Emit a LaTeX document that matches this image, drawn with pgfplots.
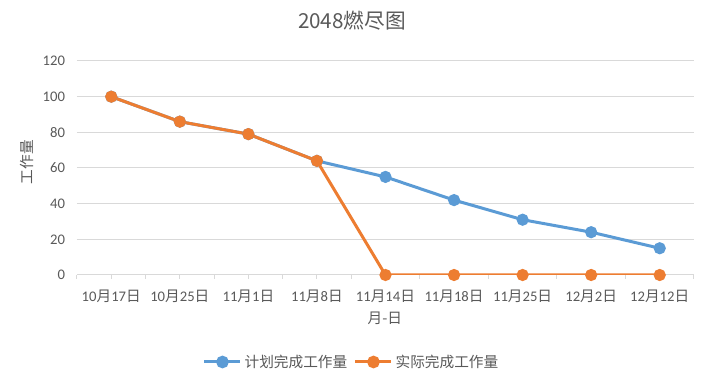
\documentclass[border=0pt]{standalone}
\usepackage{fontspec}
\setmainfont{Carlito}
\newfontfamily\cjk{Noto Sans CJK SC}
\usepackage{pgfplots}
\pgfplotsset{compat=1.18}
\definecolor{txt}{HTML}{595959}
\definecolor{grd}{HTML}{D9D9D9}
\definecolor{cblue}{HTML}{5B9BD5}
\definecolor{corange}{HTML}{ED7D31}
\newcommand\D[2]{#1{\cjk 月}#2{\cjk 日}}
\begin{document}
\begin{tikzpicture}
\begin{axis}[
  scale only axis,
  width=462.75pt, height=160.5pt,
  xmin=-0.5, xmax=8.5,
  ymin=0, ymax=120,
  xtick={0,...,8},
  minor xtick={-0.5,0.5,...,8.5},
  xticklabels={\D{10}{17},\D{10}{25},\D{11}{1},\D{11}{8},\D{11}{14},\D{11}{18},\D{11}{25},\D{12}{2},\D{12}{12}},
  ytick={0,20,...,120},
  axis x line*=bottom, axis y line*=left,
  x axis line style={draw=grd, line width=0.75pt, -},
  y axis line style={draw=none},
  ymajorgrids, major grid style={draw=grd, line width=0.75pt},
  tick align=outside,
  major tick length=3pt, minor tick length=3pt,
  xtick style={draw=grd, line width=0.75pt},
  minor x tick style={draw=grd, line width=0.75pt},
  ytick style={draw=none},
  tick label style={font=\fontsize{11}{13}\selectfont, text=txt},
  xticklabel style={yshift=-5pt},
  yticklabel style={xshift=-2.5pt},
  /pgf/number format/assume math mode=true,
  title={\cjk\fontsize{15.5}{18}\selectfont 2048燃尽图},
  title style={at={(rel axis cs:0.4457,1)}, anchor=center, yshift=24pt, text=txt},
  xlabel={\cjk\fontsize{11}{13}\selectfont 月-日},
  xlabel style={at={(rel axis cs:0.499,0)}, anchor=center, yshift=-32.25pt, text=txt},
  ylabel={\cjk\fontsize{11}{13}\selectfont 工作量},
  ylabel style={at={(rel axis cs:0,0.528)}, anchor=center, yshift=37.5pt, text=txt},
  legend columns=2,
  legend style={at={(rel axis cs:0.4457,0)}, anchor=center, yshift=-65.25pt, draw=none, fill=none,
    font=\cjk\fontsize{11}{13}\selectfont, text=txt,
    /tikz/every even column/.append style={column sep=3pt}},
  legend image code/.code={
    \draw[#1, line width=2.25pt] (0pt,0pt) -- (27pt,0pt);
    \fill[#1] (13.5pt,0pt) circle (3.6pt);
  },
]
\addplot[cblue, line width=2.25pt, mark=*, mark size=3.4pt, mark options={fill=cblue, draw=cblue}]
  coordinates {(0,100) (1,86) (2,79) (3,64) (4,55) (5,42) (6,31) (7,24) (8,15)};
\addlegendentry{计划完成工作量}
\addplot[corange, line width=2.25pt, mark=*, mark size=3.4pt, mark options={fill=corange, draw=corange}]
  coordinates {(0,100) (1,86) (2,79) (3,64) (4,0) (5,0) (6,0) (7,0) (8,0)};
\addlegendentry{实际完成工作量}
\end{axis}
\pgfresetboundingbox
\path[use as bounding box] (-57.75pt,-82.5pt) rectangle (470.25pt,206.25pt);
\end{tikzpicture}
\end{document}
